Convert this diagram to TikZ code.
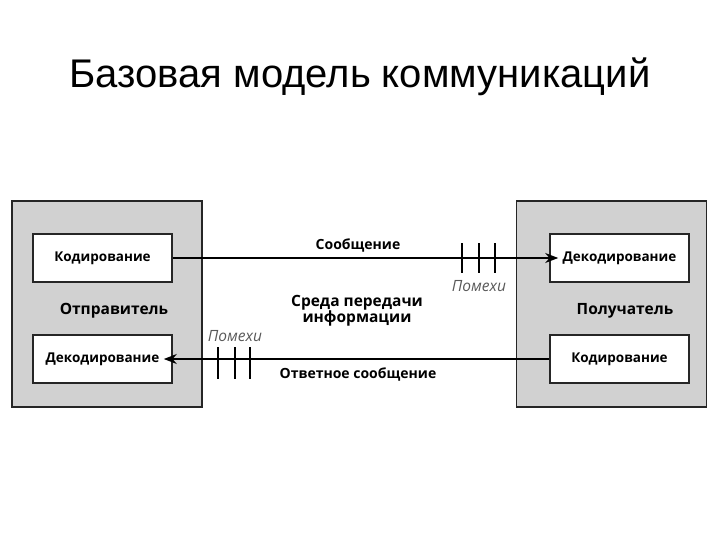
\documentclass[tikz,border=0pt]{standalone}
\usepackage{fontspec}
\setmainfont{Liberation Sans}
\newfontfamily\diagfont{Open Sans}
\usetikzlibrary{arrows.meta}
\tikzstyle{party}=[draw=black!85,line width=1.6pt,fill=black!18,minimum width=190pt,minimum height=206pt,inner sep=0pt]
\tikzstyle{codec}=[draw=black!85,line width=1.6pt,fill=white,minimum width=139pt,minimum height=48pt,inner sep=0pt,font=\diagfont\bfseries\fontsize{13.5}{15}\selectfont]
\tikzstyle{lbl}=[font=\diagfont\bfseries\fontsize{14}{16}\selectfont,align=center]
\tikzstyle{biglbl}=[font=\diagfont\bfseries\fontsize{15.5}{16}\selectfont,align=center]
\tikzstyle{noise}=[font=\diagfont\itshape\fontsize{15.5}{16}\selectfont,text=black!65]
\tikzstyle{msg}=[line width=1.6pt,shorten >=-9pt,-{Stealth[length=13pt,width=10pt]}]

\begin{document}
\begin{tikzpicture}[x=1pt,y=-1pt]
  \useasboundingbox (0,0) rectangle (720,540);
  \node[font=\fontsize{40}{46}\selectfont] (title) at (360,77) {Базовая модель коммуникаций};

  % sender and receiver
  \node[party] (S) at (107,304) {};
  \node[party] (R) at (611.5,304) {};
  \node[biglbl] (S-name) at (114,311) {Отправитель};
  \node[biglbl] (R-name) at (625,311) {Получатель};
  \foreach \name/\x/\y/\text in {S-enc/102.5/258/Кодирование, S-dec/102.5/359/Декодирование,
                                 R-dec/619.5/258/Декодирование, R-enc/619.5/359/Кодирование}
    \node[codec] (\name) at (\x,\y) {\text};

  % channel
  \draw[msg] (S-enc.east) -- (R-dec.west);
  \draw[msg] (R-enc.west) -- (S-dec.east);
  \node[lbl] (msg) at (358,245) {Сообщение};
  \node[lbl] (reply) at (358,374) {Ответное сообщение};
  \node[biglbl] (medium) at (357,311) {Среда передачи\\информации};

  % noise
  \foreach \x in {462,479,495}
    \draw[line width=1.6pt] (\x,243) -- (\x,273);
  \foreach \x in {218,235,250}
    \draw[line width=1.6pt] (\x,347) -- (\x,379);
  \node[noise] (N-1) at (479,286) {Помехи};
  \node[noise] (N-2) at (235,336) {Помехи};
\end{tikzpicture}
\end{document}
